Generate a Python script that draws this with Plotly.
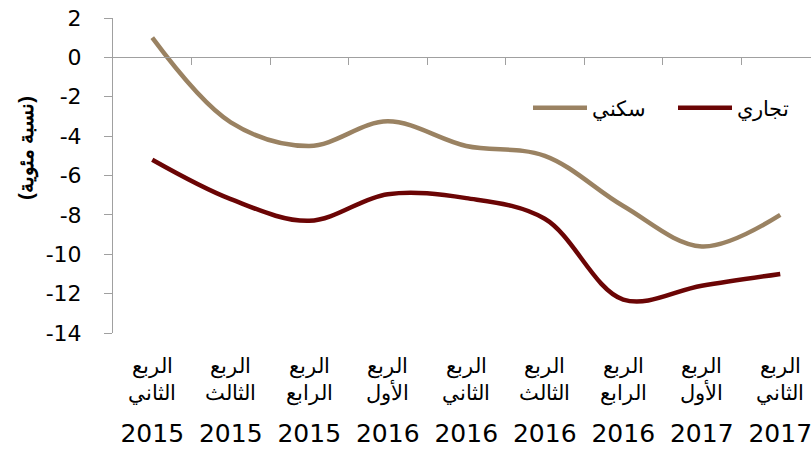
import plotly.graph_objects as go

quarters = ["الربع<br>الثاني", "الربع<br>الثالث", "الربع<br>الرابع",
            "الربع<br>الأول", "الربع<br>الثاني", "الربع<br>الثالث",
            "الربع<br>الرابع", "الربع<br>الأول", "الربع<br>الثاني"]
years = ["2015", "2015", "2015", "2016", "2016", "2016", "2016", "2017", "2017"]
residential = [1.0, -3.3, -4.5, -3.25, -4.5, -5.0, -7.55, -9.6, -8.0]
commercial = [-5.2, -7.2, -8.3, -6.95, -7.15, -8.2, -12.3, -11.6, -11.0]
y_ticks = [2, 0, -2, -4, -6, -8, -10, -12, -14]

W, H = 811, 450
L, R, T, B = 113, 0, 18, 450 - 333
pw, ph = W - L - R, H - T - B
CAT_W = 78.5  # pixel width of one category slot

def px_x(sx):  # screen x -> paper x
    return (sx - L) / pw

def px_y(sy):  # screen y -> paper y
    return (H - B - sy) / ph

xpos = list(range(len(quarters)))
font_fam = "Arial, Liberation Sans, sans-serif"
num_fam = "DejaVu Sans, Arial, sans-serif"

fig = go.Figure()
fig.add_trace(go.Scatter(x=xpos, y=residential, name="سكني", mode="lines",
                         line=dict(color="#9a8262", width=4.5, shape="spline", smoothing=1.0)))
fig.add_trace(go.Scatter(x=xpos, y=commercial, name="تجاري", mode="lines",
                         line=dict(color="#6b0505", width=4.5, shape="spline", smoothing=1.0)))
# helper traces binding the zero-position axis and the year-label axis
fig.add_trace(go.Scatter(x=[xpos[0]], y=[0], xaxis="x2", mode="markers",
                         marker=dict(opacity=0), showlegend=False, hoverinfo="skip"))
fig.add_trace(go.Scatter(x=[xpos[0]], y=[0], xaxis="x3", mode="markers",
                         marker=dict(opacity=0), showlegend=False, hoverinfo="skip"))

x_range = [-0.5, -0.5 + pw / CAT_W]

fig.update_layout(
    width=W, height=H,
    margin=dict(l=L, r=R, t=T, b=B, pad=0, autoexpand=False),
    paper_bgcolor="white", plot_bgcolor="white",
    font=dict(family=font_fam, color="black"),
    showlegend=True,
    legend=dict(orientation="h", x=px_x(528), y=px_y(108),
                xanchor="left", yanchor="middle", itemwidth=54,
                font=dict(size=21, family=font_fam), bgcolor="rgba(0,0,0,0)",
                traceorder="normal", entrywidth=76),
    xaxis=dict(range=x_range, tickmode="array", tickvals=xpos, ticktext=quarters,
               showline=False, ticks="", showgrid=False, zeroline=False,
               tickfont=dict(size=21, family=font_fam, color="black"),
               tickangle=0, ticklabelstandoff=18),
    xaxis3=dict(range=x_range, overlaying="x", anchor="y", side="bottom",
                tickmode="array", tickvals=xpos, ticktext=years,
                showline=False, ticks="", showgrid=False, zeroline=False,
                tickfont=dict(size=25, family=num_fam, color="black"),
                tickangle=0, ticklabelstandoff=83, ticklabeloverflow="allow"),
    xaxis2=dict(range=x_range, overlaying="x", anchor="free", position=14 / 16,
                side="bottom", showline=True, linecolor="#a0a0a0", linewidth=1,
                ticks="outside", ticklen=7, tickcolor="#a0a0a0",
                tickvals=[i + 0.5 for i in xpos], showticklabels=False,
                showgrid=False, zeroline=False),
    yaxis=dict(range=[-14, 2], tickvals=y_ticks, ticktext=[str(v) for v in y_ticks],
               showline=True, linecolor="#a0a0a0", linewidth=1,
               ticks="outside", ticklen=8, tickcolor="#a0a0a0",
               showgrid=False, zeroline=False, ticklabeloverflow="allow",
               tickfont=dict(size=22, family=num_fam, color="black"),
               ticklabelstandoff=18),
    annotations=[dict(text="(نسبة مئوية)", xref="paper", yref="paper",
                      x=px_x(27), y=px_y(148),
                      xanchor="center", yanchor="middle", textangle=-90,
                      showarrow=False,
                      font=dict(size=20, family=font_fam, color="black", weight="bold"))],
)

fig.write_html("out.html", config={"displayModeBar": False},
               post_script="document.body.style.margin='0px';")
